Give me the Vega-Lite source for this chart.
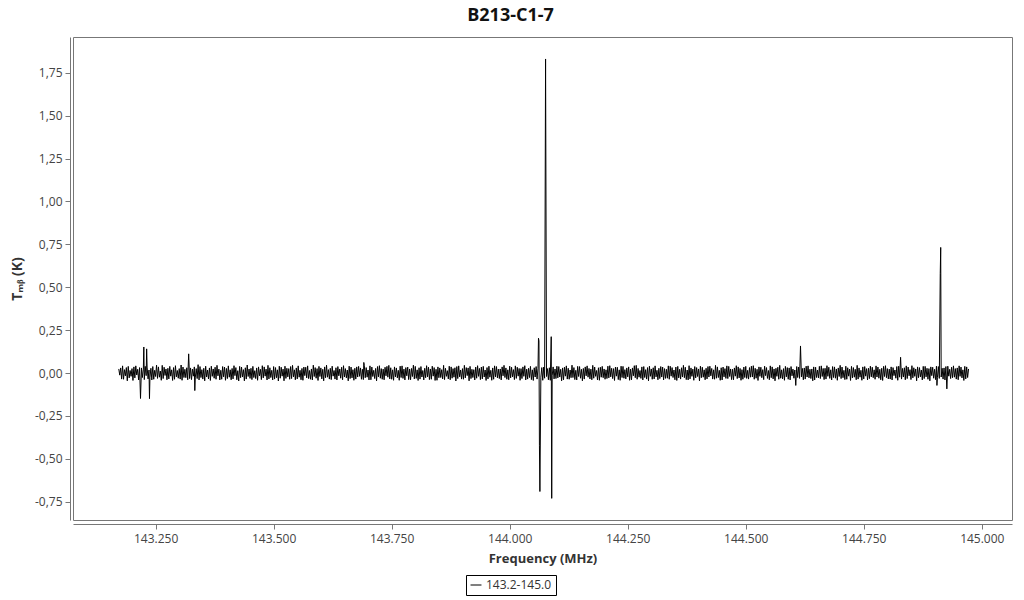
{
  "$schema": "https://vega.github.io/schema/vega-lite/v6.json",
  "autosize": {"type": "none"},
  "width": 939,
  "height": 483,
  "padding": {"left": 73, "top": 37, "right": 12, "bottom": 80},
  "title": {"text": "B213-C1-7", "fontSize": 18, "fontWeight": "bold", "font": "Open Sans", "color": "#111", "anchor": "middle", "dx": -32, "offset": 12},
  "config": {
    "locale": {"number": {"decimal": ",", "thousands": ".", "grouping": [3], "currency": ["", " €"], "minus": "-"}},
    "view": {"stroke": "#777", "strokeWidth": 1},
    "axis": {"grid": false, "domainColor": "#777", "tickColor": "#777", "labelColor": "#444", "labelFont": "Open Sans", "labelFontSize": 12, "titleFont": "Open Sans", "titleFontSize": 13, "titleColor": "#333", "titleFontWeight": "bold", "tickSize": 5}
  },
  "data": {"values": [
{"freq":143172,"tmb":0.024},{"freq":143174,"tmb":-0.012},{"freq":143176,"tmb":0.030},{"freq":143178,"tmb":-0.035},{"freq":143180,"tmb":0.042},{"freq":143182,"tmb":-0.036},{"freq":143184,"tmb":0.020},{"freq":143186,"tmb":-0.016},{"freq":143188,"tmb":0.032},{"freq":143190,"tmb":-0.045},
{"freq":143192,"tmb":0.039},{"freq":143194,"tmb":-0.028},{"freq":143196,"tmb":0.015},{"freq":143198,"tmb":-0.019},{"freq":143200,"tmb":0.026},{"freq":143202,"tmb":-0.043},{"freq":143204,"tmb":0.036},{"freq":143206,"tmb":-0.028},{"freq":143208,"tmb":0.042},{"freq":143210,"tmb":-0.011},
{"freq":143212,"tmb":0.022},{"freq":143214,"tmb":-0.040},{"freq":143216,"tmb":0.032},{"freq":143218,"tmb":-0.148},{"freq":143220,"tmb":0.030},{"freq":143222,"tmb":-0.026},{"freq":143224,"tmb":0.023},{"freq":143225,"tmb":0.152},{"freq":143226,"tmb":-0.038},{"freq":143228,"tmb":0.039},{"freq":143230,"tmb":-0.015},{"freq":143231,"tmb":0.141},
{"freq":143232,"tmb":0.035},{"freq":143234,"tmb":-0.034},{"freq":143236,"tmb":0.018},{"freq":143237,"tmb":-0.149},{"freq":143238,"tmb":-0.027},{"freq":143240,"tmb":0.028},{"freq":143242,"tmb":-0.040},{"freq":143244,"tmb":0.038},{"freq":143246,"tmb":-0.036},{"freq":143248,"tmb":0.016},{"freq":143250,"tmb":-0.020},
{"freq":143252,"tmb":0.046},{"freq":143254,"tmb":-0.031},{"freq":143256,"tmb":0.036},{"freq":143258,"tmb":-0.024},{"freq":143260,"tmb":0.012},{"freq":143262,"tmb":-0.042},{"freq":143264,"tmb":0.045},{"freq":143266,"tmb":-0.032},{"freq":143268,"tmb":0.034},{"freq":143270,"tmb":-0.014},
{"freq":143272,"tmb":0.024},{"freq":143274,"tmb":-0.039},{"freq":143276,"tmb":0.028},{"freq":143278,"tmb":-0.034},{"freq":143280,"tmb":0.039},{"freq":143282,"tmb":-0.018},{"freq":143284,"tmb":0.019},{"freq":143286,"tmb":-0.043},{"freq":143288,"tmb":0.032},{"freq":143290,"tmb":-0.036},
{"freq":143292,"tmb":0.043},{"freq":143294,"tmb":-0.022},{"freq":143296,"tmb":0.015},{"freq":143298,"tmb":-0.030},{"freq":143300,"tmb":0.026},{"freq":143302,"tmb":-0.035},{"freq":143304,"tmb":0.047},{"freq":143306,"tmb":-0.042},{"freq":143308,"tmb":0.035},{"freq":143310,"tmb":-0.026},
{"freq":143312,"tmb":0.022},{"freq":143314,"tmb":-0.027},{"freq":143316,"tmb":0.031},{"freq":143318,"tmb":-0.039},{"freq":143320,"tmb":0.112},{"freq":143322,"tmb":-0.032},{"freq":143324,"tmb":0.030},{"freq":143326,"tmb":-0.038},{"freq":143328,"tmb":0.023},{"freq":143330,"tmb":-0.018},
{"freq":143332,"tmb":0.036},{"freq":143333,"tmb":-0.102},{"freq":143334,"tmb":-0.028},{"freq":143336,"tmb":0.026},{"freq":143338,"tmb":-0.032},{"freq":143340,"tmb":0.049},{"freq":143342,"tmb":-0.040},{"freq":143344,"tmb":0.038},{"freq":143346,"tmb":-0.026},{"freq":143348,"tmb":0.020},{"freq":143350,"tmb":-0.035},
{"freq":143352,"tmb":0.028},{"freq":143354,"tmb":-0.045},{"freq":143356,"tmb":0.040},{"freq":143358,"tmb":-0.023},{"freq":143360,"tmb":0.018},{"freq":143362,"tmb":-0.034},{"freq":143364,"tmb":0.030},{"freq":143366,"tmb":-0.043},{"freq":143368,"tmb":0.040},{"freq":143370,"tmb":-0.019},
{"freq":143372,"tmb":0.024},{"freq":143374,"tmb":-0.030},{"freq":143376,"tmb":0.034},{"freq":143378,"tmb":-0.036},{"freq":143380,"tmb":0.045},{"freq":143382,"tmb":-0.016},{"freq":143384,"tmb":0.023},{"freq":143386,"tmb":-0.040},{"freq":143388,"tmb":0.016},{"freq":143390,"tmb":-0.036},
{"freq":143392,"tmb":0.038},{"freq":143394,"tmb":-0.022},{"freq":143396,"tmb":0.035},{"freq":143398,"tmb":-0.042},{"freq":143400,"tmb":0.027},{"freq":143402,"tmb":-0.032},{"freq":143404,"tmb":0.042},{"freq":143406,"tmb":-0.024},{"freq":143408,"tmb":0.019},{"freq":143410,"tmb":-0.039},
{"freq":143412,"tmb":0.027},{"freq":143414,"tmb":-0.034},{"freq":143416,"tmb":0.043},{"freq":143418,"tmb":-0.015},{"freq":143420,"tmb":0.032},{"freq":143422,"tmb":-0.039},{"freq":143424,"tmb":0.014},{"freq":143426,"tmb":-0.046},{"freq":143428,"tmb":0.039},{"freq":143430,"tmb":-0.027},
{"freq":143432,"tmb":0.035},{"freq":143434,"tmb":-0.023},{"freq":143436,"tmb":0.020},{"freq":143438,"tmb":-0.045},{"freq":143440,"tmb":0.031},{"freq":143442,"tmb":-0.035},{"freq":143444,"tmb":0.047},{"freq":143446,"tmb":-0.020},{"freq":143448,"tmb":0.024},{"freq":143450,"tmb":-0.031},
{"freq":143452,"tmb":0.028},{"freq":143454,"tmb":-0.038},{"freq":143456,"tmb":0.039},{"freq":143458,"tmb":-0.026},{"freq":143460,"tmb":0.014},{"freq":143462,"tmb":-0.032},{"freq":143464,"tmb":0.030},{"freq":143466,"tmb":-0.042},{"freq":143468,"tmb":0.036},{"freq":143470,"tmb":-0.016},
{"freq":143472,"tmb":0.022},{"freq":143474,"tmb":-0.038},{"freq":143476,"tmb":0.043},{"freq":143478,"tmb":-0.028},{"freq":143480,"tmb":0.036},{"freq":143482,"tmb":-0.018},{"freq":143484,"tmb":0.023},{"freq":143486,"tmb":-0.040},{"freq":143488,"tmb":0.045},{"freq":143490,"tmb":-0.034},
{"freq":143492,"tmb":0.031},{"freq":143494,"tmb":-0.026},{"freq":143496,"tmb":0.016},{"freq":143498,"tmb":-0.040},{"freq":143500,"tmb":0.038},{"freq":143502,"tmb":-0.035},{"freq":143504,"tmb":0.032},{"freq":143506,"tmb":-0.027},{"freq":143508,"tmb":0.019},{"freq":143510,"tmb":-0.046},
{"freq":143512,"tmb":0.040},{"freq":143514,"tmb":-0.030},{"freq":143516,"tmb":0.034},{"freq":143518,"tmb":-0.018},{"freq":143520,"tmb":0.023},{"freq":143522,"tmb":-0.045},{"freq":143524,"tmb":0.040},{"freq":143526,"tmb":-0.031},{"freq":143528,"tmb":0.028},{"freq":143530,"tmb":-0.022},
{"freq":143532,"tmb":0.026},{"freq":143534,"tmb":-0.036},{"freq":143536,"tmb":0.038},{"freq":143538,"tmb":-0.032},{"freq":143540,"tmb":0.045},{"freq":143542,"tmb":-0.022},{"freq":143544,"tmb":0.019},{"freq":143546,"tmb":-0.039},{"freq":143548,"tmb":0.030},{"freq":143550,"tmb":-0.034},
{"freq":143552,"tmb":0.042},{"freq":143554,"tmb":-0.024},{"freq":143556,"tmb":0.016},{"freq":143558,"tmb":-0.039},{"freq":143560,"tmb":0.027},{"freq":143562,"tmb":-0.042},{"freq":143564,"tmb":0.035},{"freq":143566,"tmb":-0.015},{"freq":143568,"tmb":0.034},{"freq":143570,"tmb":-0.028},
{"freq":143572,"tmb":0.042},{"freq":143574,"tmb":-0.032},{"freq":143576,"tmb":0.015},{"freq":143578,"tmb":-0.036},{"freq":143580,"tmb":0.024},{"freq":143582,"tmb":-0.040},{"freq":143584,"tmb":0.046},{"freq":143586,"tmb":-0.020},{"freq":143588,"tmb":0.032},{"freq":143590,"tmb":-0.030},
{"freq":143592,"tmb":0.026},{"freq":143594,"tmb":-0.043},{"freq":143596,"tmb":0.039},{"freq":143598,"tmb":-0.020},{"freq":143600,"tmb":0.030},{"freq":143602,"tmb":-0.034},{"freq":143604,"tmb":0.022},{"freq":143606,"tmb":-0.045},{"freq":143608,"tmb":0.036},{"freq":143610,"tmb":-0.027},
{"freq":143612,"tmb":0.046},{"freq":143614,"tmb":-0.024},{"freq":143616,"tmb":0.020},{"freq":143618,"tmb":-0.035},{"freq":143620,"tmb":0.028},{"freq":143622,"tmb":-0.038},{"freq":143624,"tmb":0.040},{"freq":143626,"tmb":-0.018},{"freq":143628,"tmb":0.015},{"freq":143630,"tmb":-0.035},
{"freq":143632,"tmb":0.031},{"freq":143634,"tmb":-0.040},{"freq":143636,"tmb":0.038},{"freq":143638,"tmb":-0.016},{"freq":143640,"tmb":0.024},{"freq":143642,"tmb":-0.030},{"freq":143644,"tmb":0.034},{"freq":143646,"tmb":-0.039},{"freq":143648,"tmb":0.043},{"freq":143650,"tmb":-0.023},
{"freq":143652,"tmb":0.026},{"freq":143654,"tmb":-0.028},{"freq":143656,"tmb":0.018},{"freq":143658,"tmb":-0.045},{"freq":143660,"tmb":0.040},{"freq":143662,"tmb":-0.032},{"freq":143664,"tmb":0.035},{"freq":143666,"tmb":-0.028},{"freq":143668,"tmb":0.020},{"freq":143670,"tmb":-0.042},
{"freq":143672,"tmb":0.028},{"freq":143674,"tmb":-0.035},{"freq":143676,"tmb":0.036},{"freq":143678,"tmb":-0.023},{"freq":143680,"tmb":0.039},{"freq":143682,"tmb":-0.019},{"freq":143684,"tmb":0.030},{"freq":143686,"tmb":-0.036},{"freq":143688,"tmb":0.022},{"freq":143690,"tmb":-0.038},{"freq":143691,"tmb":0.062},
{"freq":143692,"tmb":0.045},{"freq":143694,"tmb":-0.027},{"freq":143696,"tmb":0.032},{"freq":143698,"tmb":-0.024},{"freq":143700,"tmb":0.018},{"freq":143702,"tmb":-0.040},{"freq":143704,"tmb":0.042},{"freq":143706,"tmb":-0.039},{"freq":143708,"tmb":0.035},{"freq":143710,"tmb":-0.020},
{"freq":143712,"tmb":0.016},{"freq":143714,"tmb":-0.032},{"freq":143716,"tmb":0.027},{"freq":143718,"tmb":-0.045},{"freq":143720,"tmb":0.038},{"freq":143722,"tmb":-0.022},{"freq":143724,"tmb":0.043},{"freq":143726,"tmb":-0.030},{"freq":143728,"tmb":0.026},{"freq":143730,"tmb":-0.036},
{"freq":143732,"tmb":0.023},{"freq":143734,"tmb":-0.039},{"freq":143736,"tmb":0.034},{"freq":143738,"tmb":-0.016},{"freq":143740,"tmb":0.039},{"freq":143742,"tmb":-0.024},{"freq":143744,"tmb":0.045},{"freq":143746,"tmb":-0.034},{"freq":143748,"tmb":0.031},{"freq":143750,"tmb":-0.036},
{"freq":143752,"tmb":0.019},{"freq":143754,"tmb":-0.042},{"freq":143756,"tmb":0.036},{"freq":143758,"tmb":-0.022},{"freq":143760,"tmb":0.030},{"freq":143762,"tmb":-0.028},{"freq":143764,"tmb":0.016},{"freq":143766,"tmb":-0.042},{"freq":143768,"tmb":0.040},{"freq":143770,"tmb":-0.026},
{"freq":143772,"tmb":0.042},{"freq":143774,"tmb":-0.031},{"freq":143776,"tmb":0.023},{"freq":143778,"tmb":-0.040},{"freq":143780,"tmb":0.032},{"freq":143782,"tmb":-0.016},{"freq":143784,"tmb":0.035},{"freq":143786,"tmb":-0.038},{"freq":143788,"tmb":0.024},{"freq":143790,"tmb":-0.039},
{"freq":143792,"tmb":0.027},{"freq":143794,"tmb":-0.020},{"freq":143796,"tmb":0.046},{"freq":143798,"tmb":-0.034},{"freq":143800,"tmb":0.039},{"freq":143802,"tmb":-0.031},{"freq":143804,"tmb":0.019},{"freq":143806,"tmb":-0.043},{"freq":143808,"tmb":0.031},{"freq":143810,"tmb":-0.035},
{"freq":143812,"tmb":0.038},{"freq":143814,"tmb":-0.023},{"freq":143816,"tmb":0.015},{"freq":143818,"tmb":-0.040},{"freq":143820,"tmb":0.028},{"freq":143822,"tmb":-0.027},{"freq":143824,"tmb":0.043},{"freq":143826,"tmb":-0.022},{"freq":143828,"tmb":0.034},{"freq":143830,"tmb":-0.038},
{"freq":143832,"tmb":0.024},{"freq":143834,"tmb":-0.036},{"freq":143836,"tmb":0.040},{"freq":143838,"tmb":-0.018},{"freq":143840,"tmb":0.032},{"freq":143842,"tmb":-0.043},{"freq":143844,"tmb":0.022},{"freq":143846,"tmb":-0.042},{"freq":143848,"tmb":0.036},{"freq":143850,"tmb":-0.027},
{"freq":143852,"tmb":0.030},{"freq":143854,"tmb":-0.026},{"freq":143856,"tmb":0.020},{"freq":143858,"tmb":-0.034},{"freq":143860,"tmb":0.045},{"freq":143862,"tmb":-0.038},{"freq":143864,"tmb":0.028},{"freq":143866,"tmb":-0.019},{"freq":143868,"tmb":0.014},{"freq":143870,"tmb":-0.034},
{"freq":143872,"tmb":0.040},{"freq":143874,"tmb":-0.039},{"freq":143876,"tmb":0.036},{"freq":143878,"tmb":-0.030},{"freq":143880,"tmb":0.026},{"freq":143882,"tmb":-0.024},{"freq":143884,"tmb":0.031},{"freq":143886,"tmb":-0.046},{"freq":143888,"tmb":0.038},{"freq":143890,"tmb":-0.032},
{"freq":143892,"tmb":0.042},{"freq":143894,"tmb":-0.022},{"freq":143896,"tmb":0.018},{"freq":143898,"tmb":-0.035},{"freq":143900,"tmb":0.026},{"freq":143902,"tmb":-0.036},{"freq":143904,"tmb":0.045},{"freq":143906,"tmb":-0.028},{"freq":143908,"tmb":0.032},{"freq":143910,"tmb":-0.015},
{"freq":143912,"tmb":0.030},{"freq":143914,"tmb":-0.045},{"freq":143916,"tmb":0.039},{"freq":143918,"tmb":-0.032},{"freq":143920,"tmb":0.022},{"freq":143922,"tmb":-0.026},{"freq":143924,"tmb":0.020},{"freq":143926,"tmb":-0.040},{"freq":143928,"tmb":0.035},{"freq":143930,"tmb":-0.030},
{"freq":143932,"tmb":0.043},{"freq":143934,"tmb":-0.019},{"freq":143936,"tmb":0.027},{"freq":143938,"tmb":-0.038},{"freq":143940,"tmb":0.035},{"freq":143942,"tmb":-0.034},{"freq":143944,"tmb":0.039},{"freq":143946,"tmb":-0.023},{"freq":143948,"tmb":0.018},{"freq":143950,"tmb":-0.043},
{"freq":143952,"tmb":0.032},{"freq":143954,"tmb":-0.034},{"freq":143956,"tmb":0.040},{"freq":143958,"tmb":-0.024},{"freq":143960,"tmb":0.016},{"freq":143962,"tmb":-0.042},{"freq":143964,"tmb":0.030},{"freq":143966,"tmb":-0.036},{"freq":143968,"tmb":0.042},{"freq":143970,"tmb":-0.022},
{"freq":143972,"tmb":0.038},{"freq":143974,"tmb":-0.028},{"freq":143976,"tmb":0.023},{"freq":143978,"tmb":-0.032},{"freq":143980,"tmb":0.024},{"freq":143982,"tmb":-0.040},{"freq":143984,"tmb":0.036},{"freq":143986,"tmb":-0.016},{"freq":143988,"tmb":0.045},{"freq":143990,"tmb":-0.026},
{"freq":143992,"tmb":0.030},{"freq":143994,"tmb":-0.036},{"freq":143996,"tmb":0.019},{"freq":143998,"tmb":-0.039},{"freq":144000,"tmb":0.040},{"freq":144002,"tmb":-0.028},{"freq":144004,"tmb":0.034},{"freq":144006,"tmb":-0.022},{"freq":144008,"tmb":0.020},{"freq":144010,"tmb":-0.038},
{"freq":144012,"tmb":0.042},{"freq":144014,"tmb":-0.031},{"freq":144016,"tmb":0.034},{"freq":144018,"tmb":-0.018},{"freq":144020,"tmb":0.027},{"freq":144022,"tmb":-0.042},{"freq":144024,"tmb":0.026},{"freq":144026,"tmb":-0.032},{"freq":144028,"tmb":0.036},{"freq":144030,"tmb":-0.019},
{"freq":144032,"tmb":0.043},{"freq":144034,"tmb":-0.040},{"freq":144036,"tmb":0.023},{"freq":144038,"tmb":-0.035},{"freq":144040,"tmb":0.028},{"freq":144042,"tmb":-0.026},{"freq":144044,"tmb":0.039},{"freq":144046,"tmb":-0.038},{"freq":144048,"tmb":0.019},{"freq":144050,"tmb":-0.043},
{"freq":144052,"tmb":0.031},{"freq":144054,"tmb":-0.023},{"freq":144056,"tmb":0.038},{"freq":144058,"tmb":-0.035},{"freq":144060,"tmb":0.028},{"freq":144061,"tmb":0.203},{"freq":144062,"tmb":0.188},{"freq":144063,"tmb":-0.420},{"freq":144064,"tmb":-0.690},{"freq":144066,"tmb":-0.024},
{"freq":144068,"tmb":0.032},{"freq":144070,"tmb":-0.042},{"freq":144072,"tmb":0.035},{"freq":144074,"tmb":-0.030},{"freq":144076,"tmb":1.830},{"freq":144078,"tmb":-0.020},{"freq":144080,"tmb":0.026},{"freq":144082,"tmb":-0.039},{"freq":144084,"tmb":0.031},{"freq":144086,"tmb":-0.042},
{"freq":144088,"tmb":0.212},{"freq":144089,"tmb":-0.730},{"freq":144090,"tmb":-0.016},{"freq":144092,"tmb":0.036},{"freq":144094,"tmb":-0.034},{"freq":144096,"tmb":0.024},{"freq":144098,"tmb":-0.032},{"freq":144100,"tmb":0.040},{"freq":144102,"tmb":-0.028},{"freq":144104,"tmb":0.038},
{"freq":144106,"tmb":-0.023},{"freq":144108,"tmb":0.022},{"freq":144110,"tmb":-0.045},{"freq":144112,"tmb":0.030},{"freq":144114,"tmb":-0.039},{"freq":144116,"tmb":0.034},{"freq":144118,"tmb":-0.018},{"freq":144120,"tmb":0.042},{"freq":144122,"tmb":-0.035},{"freq":144124,"tmb":0.028},
{"freq":144126,"tmb":-0.036},{"freq":144128,"tmb":0.018},{"freq":144130,"tmb":-0.027},{"freq":144132,"tmb":0.046},{"freq":144134,"tmb":-0.026},{"freq":144136,"tmb":0.032},{"freq":144138,"tmb":-0.038},{"freq":144140,"tmb":0.016},{"freq":144142,"tmb":-0.040},{"freq":144144,"tmb":0.039},
{"freq":144146,"tmb":-0.020},{"freq":144148,"tmb":0.038},{"freq":144150,"tmb":-0.030},{"freq":144152,"tmb":0.022},{"freq":144154,"tmb":-0.045},{"freq":144156,"tmb":0.027},{"freq":144158,"tmb":-0.035},{"freq":144160,"tmb":0.036},{"freq":144162,"tmb":-0.016},{"freq":144164,"tmb":0.042},
{"freq":144166,"tmb":-0.024},{"freq":144168,"tmb":0.027},{"freq":144170,"tmb":-0.034},{"freq":144172,"tmb":0.023},{"freq":144174,"tmb":-0.039},{"freq":144176,"tmb":0.045},{"freq":144178,"tmb":-0.030},{"freq":144180,"tmb":0.035},{"freq":144182,"tmb":-0.019},{"freq":144184,"tmb":0.015},
{"freq":144186,"tmb":-0.040},{"freq":144188,"tmb":0.031},{"freq":144190,"tmb":-0.042},{"freq":144192,"tmb":0.034},{"freq":144194,"tmb":-0.024},{"freq":144196,"tmb":0.039},{"freq":144198,"tmb":-0.027},{"freq":144200,"tmb":0.024},{"freq":144202,"tmb":-0.036},{"freq":144204,"tmb":0.019},
{"freq":144206,"tmb":-0.032},{"freq":144208,"tmb":0.040},{"freq":144210,"tmb":-0.028},{"freq":144212,"tmb":0.043},{"freq":144214,"tmb":-0.022},{"freq":144216,"tmb":0.028},{"freq":144218,"tmb":-0.032},{"freq":144220,"tmb":0.026},{"freq":144222,"tmb":-0.043},{"freq":144224,"tmb":0.035},
{"freq":144226,"tmb":-0.018},{"freq":144228,"tmb":0.034},{"freq":144230,"tmb":-0.038},{"freq":144232,"tmb":0.019},{"freq":144234,"tmb":-0.042},{"freq":144236,"tmb":0.040},{"freq":144238,"tmb":-0.026},{"freq":144240,"tmb":0.039},{"freq":144242,"tmb":-0.030},{"freq":144244,"tmb":0.020},
{"freq":144246,"tmb":-0.034},{"freq":144248,"tmb":0.030},{"freq":144250,"tmb":-0.022},{"freq":144252,"tmb":0.036},{"freq":144254,"tmb":-0.042},{"freq":144256,"tmb":0.023},{"freq":144258,"tmb":-0.039},{"freq":144260,"tmb":0.030},{"freq":144262,"tmb":-0.016},{"freq":144264,"tmb":0.043},
{"freq":144266,"tmb":-0.027},{"freq":144268,"tmb":0.045},{"freq":144270,"tmb":-0.036},{"freq":144272,"tmb":0.027},{"freq":144274,"tmb":-0.024},{"freq":144276,"tmb":0.015},{"freq":144278,"tmb":-0.031},{"freq":144280,"tmb":0.036},{"freq":144282,"tmb":-0.040},{"freq":144284,"tmb":0.038},
{"freq":144286,"tmb":-0.026},{"freq":144288,"tmb":0.020},{"freq":144290,"tmb":-0.035},{"freq":144292,"tmb":0.032},{"freq":144294,"tmb":-0.045},{"freq":144296,"tmb":0.040},{"freq":144298,"tmb":-0.019},{"freq":144300,"tmb":0.024},{"freq":144302,"tmb":-0.036},{"freq":144304,"tmb":0.031},
{"freq":144306,"tmb":-0.034},{"freq":144308,"tmb":0.042},{"freq":144310,"tmb":-0.022},{"freq":144312,"tmb":0.016},{"freq":144314,"tmb":-0.039},{"freq":144316,"tmb":0.028},{"freq":144318,"tmb":-0.032},{"freq":144320,"tmb":0.038},{"freq":144322,"tmb":-0.023},{"freq":144324,"tmb":0.035},
{"freq":144326,"tmb":-0.040},{"freq":144328,"tmb":0.026},{"freq":144330,"tmb":-0.031},{"freq":144332,"tmb":0.022},{"freq":144334,"tmb":-0.030},{"freq":144336,"tmb":0.042},{"freq":144338,"tmb":-0.036},{"freq":144340,"tmb":0.040},{"freq":144342,"tmb":-0.018},{"freq":144344,"tmb":0.032},
{"freq":144346,"tmb":-0.026},{"freq":144348,"tmb":0.018},{"freq":144350,"tmb":-0.039},{"freq":144352,"tmb":0.035},{"freq":144354,"tmb":-0.043},{"freq":144356,"tmb":0.039},{"freq":144358,"tmb":-0.028},{"freq":144360,"tmb":0.022},{"freq":144362,"tmb":-0.035},{"freq":144364,"tmb":0.031},
{"freq":144366,"tmb":-0.023},{"freq":144368,"tmb":0.045},{"freq":144370,"tmb":-0.027},{"freq":144372,"tmb":0.034},{"freq":144374,"tmb":-0.038},{"freq":144376,"tmb":0.018},{"freq":144378,"tmb":-0.040},{"freq":144380,"tmb":0.043},{"freq":144382,"tmb":-0.034},{"freq":144384,"tmb":0.030},
{"freq":144386,"tmb":-0.019},{"freq":144388,"tmb":0.023},{"freq":144390,"tmb":-0.042},{"freq":144392,"tmb":0.038},{"freq":144394,"tmb":-0.028},{"freq":144396,"tmb":0.032},{"freq":144398,"tmb":-0.020},{"freq":144400,"tmb":0.024},{"freq":144402,"tmb":-0.045},{"freq":144404,"tmb":0.040},
{"freq":144406,"tmb":-0.027},{"freq":144408,"tmb":0.034},{"freq":144410,"tmb":-0.024},{"freq":144412,"tmb":0.019},{"freq":144414,"tmb":-0.039},{"freq":144416,"tmb":0.028},{"freq":144418,"tmb":-0.034},{"freq":144420,"tmb":0.038},{"freq":144422,"tmb":-0.023},{"freq":144424,"tmb":0.040},
{"freq":144426,"tmb":-0.016},{"freq":144428,"tmb":0.027},{"freq":144430,"tmb":-0.035},{"freq":144432,"tmb":0.019},{"freq":144434,"tmb":-0.036},{"freq":144436,"tmb":0.045},{"freq":144438,"tmb":-0.030},{"freq":144440,"tmb":0.036},{"freq":144442,"tmb":-0.026},{"freq":144444,"tmb":0.016},
{"freq":144446,"tmb":-0.042},{"freq":144448,"tmb":0.031},{"freq":144450,"tmb":-0.040},{"freq":144452,"tmb":0.035},{"freq":144454,"tmb":-0.022},{"freq":144456,"tmb":0.026},{"freq":144458,"tmb":-0.031},{"freq":144460,"tmb":0.042},{"freq":144462,"tmb":-0.032},{"freq":144464,"tmb":0.039},
{"freq":144466,"tmb":-0.020},{"freq":144468,"tmb":0.024},{"freq":144470,"tmb":-0.038},{"freq":144472,"tmb":0.022},{"freq":144474,"tmb":-0.039},{"freq":144476,"tmb":0.030},{"freq":144478,"tmb":-0.018},{"freq":144480,"tmb":0.043},{"freq":144482,"tmb":-0.032},{"freq":144484,"tmb":0.036},
{"freq":144486,"tmb":-0.028},{"freq":144488,"tmb":0.027},{"freq":144490,"tmb":-0.042},{"freq":144492,"tmb":0.020},{"freq":144494,"tmb":-0.036},{"freq":144496,"tmb":0.035},{"freq":144498,"tmb":-0.026},{"freq":144500,"tmb":0.039},{"freq":144502,"tmb":-0.031},{"freq":144504,"tmb":0.016},
{"freq":144506,"tmb":-0.035},{"freq":144508,"tmb":0.032},{"freq":144510,"tmb":-0.024},{"freq":144512,"tmb":0.040},{"freq":144514,"tmb":-0.023},{"freq":144516,"tmb":0.043},{"freq":144518,"tmb":-0.036},{"freq":144520,"tmb":0.028},{"freq":144522,"tmb":-0.030},{"freq":144524,"tmb":0.022},
{"freq":144526,"tmb":-0.043},{"freq":144528,"tmb":0.036},{"freq":144530,"tmb":-0.019},{"freq":144532,"tmb":0.034},{"freq":144534,"tmb":-0.027},{"freq":144536,"tmb":0.020},{"freq":144538,"tmb":-0.038},{"freq":144540,"tmb":0.040},{"freq":144542,"tmb":-0.015},{"freq":144544,"tmb":0.032},
{"freq":144546,"tmb":-0.031},{"freq":144548,"tmb":0.015},{"freq":144550,"tmb":-0.039},{"freq":144552,"tmb":0.042},{"freq":144554,"tmb":-0.027},{"freq":144556,"tmb":0.036},{"freq":144558,"tmb":-0.034},{"freq":144560,"tmb":0.024},{"freq":144562,"tmb":-0.045},{"freq":144564,"tmb":0.028},
{"freq":144566,"tmb":-0.019},{"freq":144568,"tmb":0.034},{"freq":144570,"tmb":-0.036},{"freq":144572,"tmb":0.045},{"freq":144574,"tmb":-0.030},{"freq":144576,"tmb":0.019},{"freq":144578,"tmb":-0.034},{"freq":144580,"tmb":0.026},{"freq":144582,"tmb":-0.042},{"freq":144584,"tmb":0.039},
{"freq":144586,"tmb":-0.022},{"freq":144588,"tmb":0.032},{"freq":144590,"tmb":-0.036},{"freq":144592,"tmb":0.030},{"freq":144594,"tmb":-0.040},{"freq":144596,"tmb":0.038},{"freq":144598,"tmb":-0.016},{"freq":144600,"tmb":0.023},{"freq":144602,"tmb":-0.030},{"freq":144604,"tmb":0.018},
{"freq":144606,"tmb":-0.072},{"freq":144608,"tmb":0.038},{"freq":144610,"tmb":-0.026},{"freq":144612,"tmb":0.035},{"freq":144614,"tmb":-0.031},{"freq":144616,"tmb":0.158},{"freq":144618,"tmb":-0.022},{"freq":144620,"tmb":0.027},{"freq":144622,"tmb":-0.039},{"freq":144624,"tmb":0.030},
{"freq":144626,"tmb":-0.035},{"freq":144628,"tmb":0.040},{"freq":144630,"tmb":-0.023},{"freq":144632,"tmb":0.042},{"freq":144634,"tmb":-0.028},{"freq":144636,"tmb":0.022},{"freq":144638,"tmb":-0.032},{"freq":144640,"tmb":0.024},{"freq":144642,"tmb":-0.045},{"freq":144644,"tmb":0.036},
{"freq":144646,"tmb":-0.040},{"freq":144648,"tmb":0.034},{"freq":144650,"tmb":-0.026},{"freq":144652,"tmb":0.018},{"freq":144654,"tmb":-0.028},{"freq":144656,"tmb":0.039},{"freq":144658,"tmb":-0.032},{"freq":144660,"tmb":0.042},{"freq":144662,"tmb":-0.020},{"freq":144664,"tmb":0.027},
{"freq":144666,"tmb":-0.038},{"freq":144668,"tmb":0.028},{"freq":144670,"tmb":-0.035},{"freq":144672,"tmb":0.043},{"freq":144674,"tmb":-0.019},{"freq":144676,"tmb":0.034},{"freq":144678,"tmb":-0.031},{"freq":144680,"tmb":0.019},{"freq":144682,"tmb":-0.040},{"freq":144684,"tmb":0.038},
{"freq":144686,"tmb":-0.026},{"freq":144688,"tmb":0.036},{"freq":144690,"tmb":-0.030},{"freq":144692,"tmb":0.024},{"freq":144694,"tmb":-0.042},{"freq":144696,"tmb":0.030},{"freq":144698,"tmb":-0.020},{"freq":144700,"tmb":0.045},{"freq":144702,"tmb":-0.032},{"freq":144704,"tmb":0.035},
{"freq":144706,"tmb":-0.027},{"freq":144708,"tmb":0.016},{"freq":144710,"tmb":-0.038},{"freq":144712,"tmb":0.040},{"freq":144714,"tmb":-0.036},{"freq":144716,"tmb":0.031},{"freq":144718,"tmb":-0.018},{"freq":144720,"tmb":0.023},{"freq":144722,"tmb":-0.043},{"freq":144724,"tmb":0.039},
{"freq":144726,"tmb":-0.028},{"freq":144728,"tmb":0.032},{"freq":144730,"tmb":-0.024},{"freq":144732,"tmb":0.022},{"freq":144734,"tmb":-0.039},{"freq":144736,"tmb":0.045},{"freq":144738,"tmb":-0.035},{"freq":144740,"tmb":0.030},{"freq":144742,"tmb":-0.024},{"freq":144744,"tmb":0.016},
{"freq":144746,"tmb":-0.042},{"freq":144748,"tmb":0.036},{"freq":144750,"tmb":-0.034},{"freq":144752,"tmb":0.038},{"freq":144754,"tmb":-0.018},{"freq":144756,"tmb":0.026},{"freq":144758,"tmb":-0.040},{"freq":144760,"tmb":0.028},{"freq":144762,"tmb":-0.032},{"freq":144764,"tmb":0.040},
{"freq":144766,"tmb":-0.022},{"freq":144768,"tmb":0.034},{"freq":144770,"tmb":-0.027},{"freq":144772,"tmb":0.019},{"freq":144774,"tmb":-0.036},{"freq":144776,"tmb":0.042},{"freq":144778,"tmb":-0.023},{"freq":144780,"tmb":0.035},{"freq":144782,"tmb":-0.030},{"freq":144784,"tmb":0.022},
{"freq":144786,"tmb":-0.039},{"freq":144788,"tmb":0.028},{"freq":144790,"tmb":-0.043},{"freq":144792,"tmb":0.039},{"freq":144794,"tmb":-0.020},{"freq":144796,"tmb":0.043},{"freq":144798,"tmb":-0.027},{"freq":144800,"tmb":0.026},{"freq":144802,"tmb":-0.034},{"freq":144804,"tmb":0.023},
{"freq":144806,"tmb":-0.035},{"freq":144808,"tmb":0.036},{"freq":144810,"tmb":-0.040},{"freq":144812,"tmb":0.032},{"freq":144814,"tmb":-0.015},{"freq":144816,"tmb":0.018},{"freq":144818,"tmb":-0.030},{"freq":144820,"tmb":0.038},{"freq":144822,"tmb":-0.042},{"freq":144824,"tmb":0.040},
{"freq":144826,"tmb":-0.024},{"freq":144828,"tmb":0.092},{"freq":144830,"tmb":-0.035},{"freq":144832,"tmb":0.027},{"freq":144834,"tmb":-0.023},{"freq":144836,"tmb":0.031},{"freq":144838,"tmb":-0.039},{"freq":144840,"tmb":0.042},{"freq":144842,"tmb":-0.032},{"freq":144844,"tmb":0.035},
{"freq":144846,"tmb":-0.016},{"freq":144848,"tmb":0.020},{"freq":144850,"tmb":-0.038},{"freq":144852,"tmb":0.043},{"freq":144854,"tmb":-0.028},{"freq":144856,"tmb":0.031},{"freq":144858,"tmb":-0.019},{"freq":144860,"tmb":0.024},{"freq":144862,"tmb":-0.045},{"freq":144864,"tmb":0.036},
{"freq":144866,"tmb":-0.027},{"freq":144868,"tmb":0.032},{"freq":144870,"tmb":-0.022},{"freq":144872,"tmb":0.018},{"freq":144874,"tmb":-0.040},{"freq":144876,"tmb":0.039},{"freq":144878,"tmb":-0.032},{"freq":144880,"tmb":0.039},{"freq":144882,"tmb":-0.022},{"freq":144884,"tmb":0.028},
{"freq":144886,"tmb":-0.036},{"freq":144888,"tmb":0.026},{"freq":144890,"tmb":-0.045},{"freq":144892,"tmb":0.036},{"freq":144894,"tmb":-0.015},{"freq":144896,"tmb":0.034},{"freq":144898,"tmb":-0.030},{"freq":144900,"tmb":0.022},{"freq":144902,"tmb":-0.038},{"freq":144904,"tmb":0.040},
{"freq":144905,"tmb":-0.072},{"freq":144906,"tmb":-0.026},{"freq":144908,"tmb":0.038},{"freq":144910,"tmb":-0.031},{"freq":144912,"tmb":0.580},{"freq":144913,"tmb":0.732},{"freq":144914,"tmb":-0.023},{"freq":144916,"tmb":0.028},{"freq":144918,"tmb":-0.035},{"freq":144920,"tmb":0.030},
{"freq":144922,"tmb":-0.040},{"freq":144924,"tmb":0.038},{"freq":144926,"tmb":-0.092},{"freq":144928,"tmb":0.040},{"freq":144930,"tmb":-0.018},{"freq":144932,"tmb":0.022},{"freq":144934,"tmb":-0.032},{"freq":144936,"tmb":0.034},{"freq":144938,"tmb":-0.027},{"freq":144940,"tmb":0.042},
{"freq":144942,"tmb":-0.024},{"freq":144944,"tmb":0.026},{"freq":144946,"tmb":-0.035},{"freq":144948,"tmb":0.030},{"freq":144950,"tmb":-0.039},{"freq":144952,"tmb":0.042},{"freq":144954,"tmb":-0.019},{"freq":144956,"tmb":0.035},{"freq":144958,"tmb":-0.028},{"freq":144960,"tmb":0.019},
{"freq":144962,"tmb":-0.043},{"freq":144964,"tmb":0.039},{"freq":144966,"tmb":-0.034},{"freq":144968,"tmb":0.036},{"freq":144970,"tmb":-0.026},{"freq":144972,"tmb":0.024}
  ]},
  "mark": {"type": "line", "strokeWidth": 1, "interpolate": "linear"},
  "encoding": {
    "x": {"field": "freq", "type": "quantitative", "title": "Frequency (MHz)",
      "scale": {"domain": [143075, 145064], "nice": false, "zero": false},
      "axis": {"values": [143250, 143500, 143750, 144000, 144250, 144500, 144750, 145000], "format": ",.0f", "offset": 4, "labelPadding": 4, "titlePadding": 8}},
    "y": {"field": "tmb", "type": "quantitative", "title": "Tₘᵦ (K)",
      "scale": {"domain": [-0.856, 1.958], "nice": false, "zero": false},
      "axis": {"values": [-0.75, -0.5, -0.25, 0, 0.25, 0.5, 0.75, 1, 1.25, 1.5, 1.75], "format": ".2f", "offset": 3, "labelPadding": 3, "titlePadding": 10, "titleFontSize": 14}},
    "color": {"datum": "143.2-145.0", "type": "nominal", "scale": {"range": ["#000000"]},
      "legend": {"title": null, "orient": "none", "legendX": 393, "legendY": 538, "symbolType": "stroke", "symbolSize": 120, "symbolStrokeWidth": 1, "labelFont": "Open Sans", "labelFontSize": 12, "labelColor": "#333", "strokeColor": "#000", "padding": 4}},
    "order": {"field": "freq", "type": "quantitative"}
  }
}
